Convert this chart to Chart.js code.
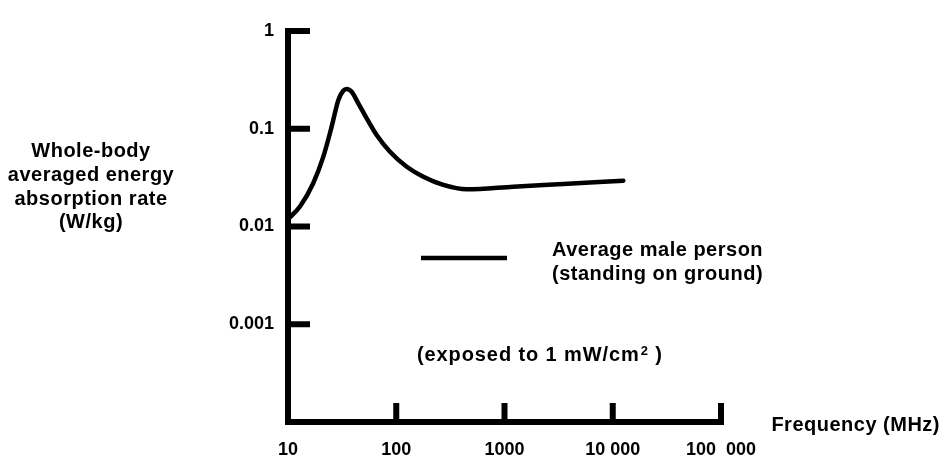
<!DOCTYPE html>
<html>
<head>
<meta charset="utf-8">
<script src="https://cdn.jsdelivr.net/npm/chart.js@4.4.1/dist/chart.umd.min.js"></script>
<style>
  html, body { margin: 0; padding: 0; background: #fff; }
  #wrap { width: 943px; height: 456px; }
</style>
</head>
<body>
<div id="wrap"><canvas id="c" width="943" height="456"></canvas></div>
<script>
// ---- data ----
const freqMHz = [10, 12.9, 17.1, 21.2, 25.3, 29.2, 32.4, 34.8, 38.7, 44.6, 53.3, 65.9, 87.5, 125, 178, 272, 448, 1206, 3490, 12530];
const sarWkg  = [0.0119, 0.0160, 0.0277, 0.0518, 0.105, 0.197, 0.245, 0.255, 0.239, 0.182, 0.128, 0.0863, 0.0582, 0.0409, 0.0323, 0.0266, 0.0240, 0.0255, 0.0272, 0.0294];

const xTickValues = [10, 100, 1000, 10000, 100000];
const xTickLabels = ['10', '100', '1000', '10 000', '100  000'];
const yTickValues = [0.001, 0.01, 0.1, 1];
const yTickLabels = ['0.001', '0.01', '0.1', '1'];

const yTitleLines = ['Whole-body', 'averaged energy', 'absorption rate', '(W/kg)'];
const xTitle = 'Frequency (MHz)';
const seriesLabel = ['Average male person', '(standing on ground)'];
const noteMain = '(exposed to 1 mW/cm';
const noteSup = '2';
const noteEnd = ' )';

const FONT = '"Liberation Sans", Arial, Helvetica, sans-serif';

const axesPlugin = {
  id: 'axesPlugin',
  beforeDatasetsDraw(chart) {
    const ctx = chart.ctx;
    const xs = chart.scales.x, ys = chart.scales.y;
    const x0 = xs.getPixelForValue(xTickValues[0]);
    const xEnd = xs.getPixelForValue(xTickValues[xTickValues.length - 1]);
    const yBottom = ys.getPixelForValue(ys.min);
    const yTop = ys.getPixelForValue(yTickValues[yTickValues.length - 1]);
    const w = 6;
    ctx.save();
    ctx.fillStyle = '#000';
    // vertical axis
    ctx.fillRect(x0 - w / 2, yTop - w / 2, w, yBottom - yTop + w);
    // horizontal axis
    ctx.fillRect(x0 - w / 2, yBottom - w / 2, xEnd - x0 + w, w);
    // y ticks (inward)
    yTickValues.forEach(v => {
      const py = ys.getPixelForValue(v);
      ctx.fillRect(x0 - w / 2, py - w / 2, 22 + w / 2, w);
    });
    // x ticks (inward)
    xTickValues.slice(1).forEach(v => {
      const px = xs.getPixelForValue(v);
      ctx.fillRect(px - w / 2, yBottom - 19, w, 19 + w / 2);
    });
    ctx.restore();
  },
  afterDraw(chart) {
    const ctx = chart.ctx;
    ctx.save();
    ctx.fillStyle = '#000';
    ctx.textBaseline = 'alphabetic';
    if ('letterSpacing' in ctx) ctx.letterSpacing = '0.5px';
    ctx.font = 'bold 20px ' + FONT;
    // y-axis title block
    ctx.textAlign = 'center';
    const baseY = [157, 181, 205, 228];
    yTitleLines.forEach((t, i) => ctx.fillText(t, 91, baseY[i]));
    // x-axis title
    ctx.textAlign = 'right';
    ctx.fillText(xTitle, 940, 431);
    ctx.textAlign = 'left';
    // series label
    ctx.fillText(seriesLabel[0], 552, 256);
    ctx.fillText(seriesLabel[1], 552, 280);
    // legend sample line
    ctx.save();
    ctx.strokeStyle = '#000';
    ctx.lineWidth = 4.5;
    ctx.beginPath();
    ctx.moveTo(421, 258);
    ctx.lineTo(507, 258);
    ctx.stroke();
    ctx.restore();
    // exposure note
    if ('letterSpacing' in ctx) ctx.letterSpacing = '0.9px';
    let x = 417;
    const by = 361;
    ctx.fillText(noteMain, x, by);
    x += ctx.measureText(noteMain).width;
    ctx.font = 'bold 13px ' + FONT;
    ctx.fillText(noteSup, x + 1, by - 6);
    x += ctx.measureText(noteSup).width + 1;
    ctx.font = 'bold 20px ' + FONT;
    ctx.fillText(noteEnd, x, by);
    ctx.restore();
  }
};

const data = {
  datasets: [{
    label: seriesLabel.join(' '),
    data: freqMHz.map((f, i) => ({ x: f, y: sarWkg[i] })),
    borderColor: '#000',
    borderWidth: 4.5,
    pointRadius: 0,
    fill: false,
    cubicInterpolationMode: 'monotone',
    borderCapStyle: 'round',
    borderJoinStyle: 'round'
  }]
};

new Chart(document.getElementById('c'), {
  type: 'line',
  data,
  plugins: [axesPlugin],
  options: {
    responsive: false,
    animation: false,
    layout: { padding: { top: 31, right: 222, bottom: 0, left: 0 } },
    plugins: { legend: { display: false }, tooltip: { enabled: false }, title: { display: false } },
    scales: {
      x: {
        type: 'logarithmic',
        min: 10, max: 100000,
        grid: { display: false, drawTicks: false },
        border: { display: false },
        afterBuildTicks: s => { s.ticks = xTickValues.map(v => ({ value: v })); },
        afterFit: s => { s.height = 34; },
        ticks: {
          autoSkip: false, maxRotation: 0, minRotation: 0,
          padding: 17, color: '#000',
          font: { family: FONT, size: 18, weight: 'bold' },
          callback: v => { const i = xTickValues.indexOf(v); return i >= 0 ? xTickLabels[i] : ''; }
        }
      },
      y: {
        type: 'logarithmic',
        min: 0.0001, max: 1,
        grid: { display: false, drawTicks: false },
        border: { display: false },
        afterBuildTicks: s => { s.ticks = yTickValues.map(v => ({ value: v })); },
        afterFit: s => { s.width = 288; },
        ticks: {
          autoSkip: false,
          padding: 14, color: '#000',
          font: { family: FONT, size: 18, weight: 'bold' },
          callback: v => { const i = yTickValues.indexOf(v); return i >= 0 ? yTickLabels[i] : ''; }
        }
      }
    }
  }
});
</script>
</body>
</html>
